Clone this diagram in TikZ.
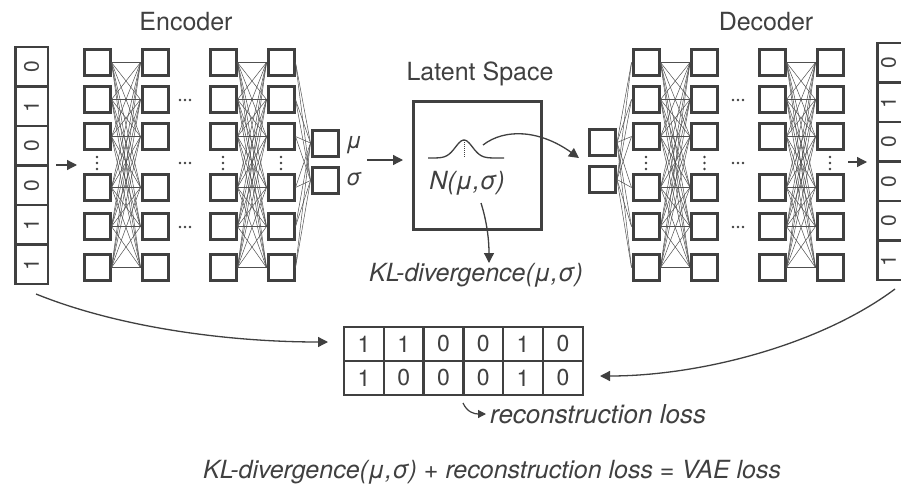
\documentclass[tikz,border=0pt]{standalone}
\usepackage{fontspec}
\setmainfont{TeX Gyre Heros}
\usetikzlibrary{arrows.meta}
\definecolor{dk}{HTML}{404040}
\definecolor{ln}{HTML}{505050}
\begin{document}
\begin{tikzpicture}[x=1pt,y=-1pt,
  nbox/.style={draw=dk, line width=3pt, minimum size=26pt, inner sep=0pt},
  vcell/.style={draw=dk, line width=2.5pt, minimum width=32.5pt, minimum height=39.5pt, inner sep=0pt, text=dk, font=\fontsize{21}{24}\selectfont},
  tcell/.style={draw=dk, line width=2.5pt, minimum width=39.8pt, minimum height=34pt, inner sep=0pt, text=dk, font=\fontsize{23}{26}\selectfont},
  vdig/.style={text=dk, inner sep=0pt, font=\fontsize{21}{24}\selectfont},
  conn/.style={draw=ln, line width=0.5pt},
  arr/.style={draw=dk, line width=1.3pt, -{Triangle[length=10pt,width=10pt]}},
  sarr/.style={draw=dk, line width=1.2pt, -{Triangle[length=8pt,width=8pt]}},
  lbl/.style={text=dk, inner sep=0pt, anchor=base, font=\fontsize{25}{30}\selectfont},
  ilbl/.style={text=dk, inner sep=0pt, anchor=base, font=\fontsize{25}{30}\selectfont\itshape},
  glbl/.style={text=dk, inner sep=0pt, anchor=base west, font=\fontsize{23}{26}\selectfont\itshape},
  dotc/.style={fill=dk}
]
\useasboundingbox (0,0) rectangle (901,487);
\fill[white] (0,0) rectangle (901,487);

% layers
\foreach \y [count=\r] in {62.5,99.5,136.5,187.5,226.5,267.5} {
  \foreach \x [count=\c] in {97,155,223,281}
    \node[nbox] (e\c-\r) at (\x,\y) {};
  \foreach \x [count=\c] in {646,704.5,772,830}
    \node[nbox] (d\c-\r) at (\x,\y) {};
}
\node[nbox] (emu) at (325,143) {};
\node[nbox] (esg) at (325,180.5) {};
\node[nbox] (dmu) at (602.5,142.5) {};
\node[nbox] (dsg) at (602.5,179.5) {};

% connections
\foreach \i in {1,...,6} {
  \foreach \j in {1,...,6} {
    \draw[conn] (e1-\i.east) -- (e2-\j.west);
    \draw[conn] (e3-\i.east) -- (e4-\j.west);
    \draw[conn] (d1-\i.east) -- (d2-\j.west);
    \draw[conn] (d3-\i.east) -- (d4-\j.west);
  }
  \draw[conn] (e4-\i.east) -- (emu.west);
  \draw[conn] (e4-\i.east) -- (esg.west);
  \draw[conn] (dmu.east) -- (d1-\i.west);
  \draw[conn] (dsg.east) -- (d1-\i.west);
}

% ellipses
\foreach \x in {185,738} {
  \foreach \y in {100,163,227} {
    \foreach \d in {-5,0,5} \fill[dotc] (\x+\d,\y) circle (1.3);
  }
}
\foreach \x in {97,223,281,646,704.5,830} {
  \foreach \d in {-6,0,6} \fill[dotc] (\x,163+\d) circle (1.3);
}

% input / output vectors
\foreach \v [count=\k] in {0,1,0,0,1,1}
  \node[vcell] (in\k) at (31.5,{47+39.5*(\k-0.5)}) {\rotatebox{90}{\v}};
\foreach \v [count=\k] in {0,1,0,0,0,1} {
  \node[vcell] (out\k) at (893.5,{43+39.5*(\k-0.5)}) {};
  \node[vdig] (od\k) at (888.5,{43+39.5*(\k-0.5)}) {\rotatebox{90}{\v}};
}

% table
\foreach \v [count=\k] in {1,1,0,0,1,0}
  \node[tcell] (ta\k) at ({344+39.8*(\k-0.5)},344) {\v};
\foreach \v [count=\k] in {1,0,0,0,1,0}
  \node[tcell] (tb\k) at ({344+39.8*(\k-0.5)},378) {\v};

% labels
\node[lbl] (enc) at (186,31) {Encoder};
\node[lbl] (dec) at (766,31) {Decoder};
\node[lbl] (lat) at (480,80) {Latent Space};
\node[draw=dk, line width=3pt, minimum size=128pt, inner sep=0pt] (lbox) at (477.5,165.5) {};
\node[glbl] (mul) at (346,148) {μ};
\node[glbl] (sgl) at (346,185) {σ};
\node[ilbl] (N) at (467,189) {N(μ,σ)};
\node[ilbl] (KL) at (476,281) {KL-divergence(μ,σ)};
\node[ilbl, anchor=base west, font=\fontsize{26}{30}\selectfont\itshape] (rec) at (490,423) {reconstruction loss};
\node[ilbl, anchor=base west] (vae) at (203,478) {KL-divergence(μ,σ) + reconstruction loss = VAE loss};

% bell curve
\draw[dk, line width=1.3pt] plot[smooth, samples=40, domain=428:504] (\x,{158-18*exp(-((\x-464)/12)^2)});
\draw[dk, line width=1pt, densely dotted] (464,142) -- (464,158);

% arrows
\coordinate (ia) at (56,165); \coordinate (ib) at (77,165);
\draw[arr] (ia) -- (ib);
\coordinate (oa) at (848,162); \coordinate (ob) at (867,162);
\draw[arr] (oa) -- (ob);
\coordinate (ma) at (367,160); \coordinate (mb) at (403,160);
\draw[arr] (ma) -- (mb);
\coordinate (la) at (483,145); \coordinate (lb) at (579,158);
\draw[arr] (la) .. controls (505,128) and (540,130) .. (lb);
\coordinate (na) at (481,203); \coordinate (nb) at (489,263);
\draw[arr] (na) .. controls (487,222) and (489,240) .. (nb);
\coordinate (ca) at (36,294); \coordinate (cb) at (328,342);
\draw[arr] (ca) .. controls (120,328) and (230,342) .. (cb);
\coordinate (da) at (895,289); \coordinate (db) at (600,376);
\draw[arr] (da) .. controls (820,345) and (700,376) .. (db);
\coordinate (ra) at (463,403); \coordinate (rb) at (486,414);
\draw[sarr] (ra) .. controls (467,412) and (474,414) .. (rb);
\end{tikzpicture}
\end{document}
